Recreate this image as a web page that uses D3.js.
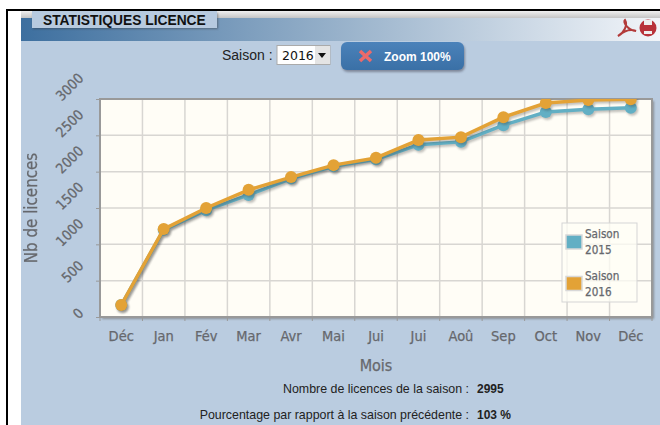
<!DOCTYPE html>
<html>
<head>
<meta charset="utf-8">
<script src="https://cdn.jsdelivr.net/npm/d3@7"></script>
<style>
html, body { margin: 0; padding: 0; background: #fff; overflow: hidden; }
svg { filter: blur(0.35px); }
text { font-family: "DejaVu Sans", sans-serif; }
.ui { font-family: "Liberation Sans", Arial, sans-serif; }
.lab { font-family: "DejaVu Sans Condensed", "DejaVu Sans", sans-serif; fill: #66686d; stroke: #66686d; stroke-width: 0.25px; }
</style>
</head>
<body>
<div id="chart"></div>
<script>
const months = ['Déc', 'Jan', 'Fév', 'Mar', 'Avr', 'Mai', 'Jui', 'Jui', 'Aoû', 'Sep', 'Oct', 'Nov', 'Déc'];
const season2015 = [165, 1200, 1470, 1680, 1905, 2075, 2170, 2370, 2410, 2640, 2820, 2860, 2880];
const season2016 = [165, 1210, 1500, 1750, 1925, 2090, 2190, 2435, 2475, 2750, 2945, 2985, 2995];
const yTicks = [0, 500, 1000, 1500, 2000, 2500, 3000];
const seasonNames = ['2015', '2016'];
const seasonColors = ['#62afc4', '#e3a236'];

const svg = d3.select('#chart').append('svg').attr('width', 660).attr('height', 425);
const defs = svg.append('defs');

const headGrad = defs.append('linearGradient').attr('id', 'head');
headGrad.append('stop').attr('offset', '0%').attr('stop-color', '#3d6f9f');
headGrad.append('stop').attr('offset', '45%').attr('stop-color', '#8fabc6');
headGrad.append('stop').attr('offset', '100%').attr('stop-color', '#f2f5f9');

const topGrad = defs.append('linearGradient').attr('id', 'topbar').attr('x2', 0).attr('y2', 1);
topGrad.append('stop').attr('offset', '0%').attr('stop-color', '#f0f0f0');
topGrad.append('stop').attr('offset', '100%').attr('stop-color', '#c4c4c4');

const btnGrad = defs.append('linearGradient').attr('id', 'btn').attr('x2', 0).attr('y2', 1);
btnGrad.append('stop').attr('offset', '0%').attr('stop-color', '#4b82ba');
btnGrad.append('stop').attr('offset', '100%').attr('stop-color', '#3a70a6');

const soft = defs.append('filter').attr('id', 'soft').attr('x', '-20%').attr('y', '-20%').attr('width', '140%').attr('height', '140%');
soft.append('feGaussianBlur').attr('stdDeviation', 1.2);

defs.append('clipPath').attr('id', 'plotclip').append('rect')
    .attr('x', 100).attr('y', 99).attr('width', 552).attr('height', 218);

// page frame
svg.append('rect').attr('x', 6).attr('y', 9).attr('width', 654).attr('height', 2).attr('fill', '#000');
svg.append('rect').attr('x', 6).attr('y', 9).attr('width', 2).attr('height', 416).attr('fill', '#000');
svg.append('rect').attr('x', 21).attr('y', 11).attr('width', 639).attr('height', 414).attr('fill', '#bacce0');
svg.append('rect').attr('x', 21).attr('y', 11).attr('width', 639).attr('height', 7).attr('fill', 'url(#topbar)');
svg.append('rect').attr('x', 21).attr('y', 18).attr('width', 639).attr('height', 23).attr('fill', 'url(#head)');

// title tab
svg.append('rect').attr('x', 33).attr('y', 13).attr('width', 185).attr('height', 16)
    .attr('fill', '#333').attr('opacity', 0.45).attr('filter', 'url(#soft)');
svg.append('rect').attr('x', 32).attr('y', 11).attr('width', 185).attr('height', 17).attr('fill', '#b7cadf');
svg.append('text').attr('class', 'ui').attr('x', 43).attr('y', 24.5)
    .attr('font-size', 13.8).attr('font-weight', 'bold').attr('fill', '#111').text('STATISTIQUES LICENCE');

// pdf and print icons
svg.append('path').attr('d', 'M618 36 C624 33 628 25 625 20 C623 22 627 30 636 31 C631 29 624 31 618 36 Z')
    .attr('fill', 'none').attr('stroke', '#b23a3a').attr('stroke-width', 2);
svg.append('circle').attr('cx', 648).attr('cy', 28).attr('r', 8.5).attr('fill', '#b8323a');
svg.append('rect').attr('x', 644).attr('y', 20).attr('width', 8).attr('height', 5).attr('fill', '#eee');
svg.append('rect').attr('x', 644).attr('y', 31).attr('width', 8).attr('height', 3).attr('fill', '#eee');

// season selector
svg.append('text').attr('class', 'ui').attr('x', 222).attr('y', 59.5)
    .attr('font-size', 14).attr('fill', '#222').text('Saison :');
svg.append('rect').attr('x', 277).attr('y', 45.5).attr('width', 53).attr('height', 19)
    .attr('fill', '#fff').attr('stroke', '#aaa');
svg.append('rect').attr('x', 315).attr('y', 46).attr('width', 15).attr('height', 18).attr('fill', '#e4e4e4');
svg.append('path').attr('d', 'M318 53 L326 53 L322 58 Z').attr('fill', '#111');
svg.append('text').attr('x', 282).attr('y', 60).attr('font-size', 12.5).attr('fill', '#111').text('2016');

// zoom button
svg.append('rect').attr('x', 342).attr('y', 44).attr('width', 123).attr('height', 28).attr('rx', 6)
    .attr('fill', '#445').attr('opacity', 0.5).attr('filter', 'url(#soft)');
svg.append('rect').attr('x', 341).attr('y', 42).attr('width', 123).attr('height', 28).attr('rx', 6).attr('fill', 'url(#btn)');
svg.append('path').attr('d', 'M360 51 L371 61 M371 51 L360 61').attr('stroke', '#ec6a6a').attr('stroke-width', 3.5);
svg.append('text').attr('class', 'ui').attr('x', 384).attr('y', 61)
    .attr('font-size', 12).attr('font-weight', 'bold').attr('fill', '#fff').text('Zoom 100%');

// scales
const x = d3.scaleBand().domain(d3.range(months.length)).range([100, 652]);
const y = d3.scaleLinear().domain([0, 3000]).range([317, 99]);

// plot background
svg.append('rect').attr('x', 102).attr('y', 101).attr('width', 552).attr('height', 218)
    .attr('fill', '#777').attr('opacity', 0.7).attr('filter', 'url(#soft)');
svg.append('rect').attr('x', 100).attr('y', 99).attr('width', 552).attr('height', 218)
    .attr('fill', '#fffdf6');

// grid
svg.append('g').selectAll('line').data(d3.range(1, months.length)).join('line')
    .attr('x1', d => x(d)).attr('x2', d => x(d)).attr('y1', 99).attr('y2', 317)
    .attr('stroke', '#d8d6d2').attr('stroke-width', 1.5);
svg.append('g').selectAll('line').data(yTicks.slice(1, -1)).join('line')
    .attr('x1', 100).attr('x2', 652).attr('y1', d => y(d)).attr('y2', d => y(d))
    .attr('stroke', '#d8d6d2').attr('stroke-width', 1.5);

// plot border
svg.append('rect').attr('x', 100).attr('y', 99).attr('width', 552).attr('height', 218)
    .attr('fill', 'none').attr('stroke', '#999').attr('stroke-width', 2);

// axes
const xAxis = svg.append('g').attr('transform', 'translate(0,317)')
    .call(d3.axisBottom(x).tickFormat(i => months[i]).tickSize(0).tickPadding(14));
xAxis.select('.domain').remove();
xAxis.selectAll('text').attr('class', 'lab').attr('font-size', 14.5).attr('font-family', null);
svg.append('g').selectAll('line').data(d3.range(months.length + 1)).join('line')
    .attr('x1', i => i < months.length ? x(i) : 652).attr('x2', i => i < months.length ? x(i) : 652)
    .attr('y1', 317).attr('y2', 321).attr('stroke', '#999');

const yAxis = svg.append('g').attr('transform', 'translate(100,0)')
    .call(d3.axisLeft(y).tickValues(yTicks).tickFormat(d3.format('d')).tickSize(4));
yAxis.select('.domain').remove();
yAxis.selectAll('line').attr('stroke', '#999');
// rotated labels: right edges line up, baseline start sits just under the tick
yAxis.selectAll('text')
    .attr('class', 'lab').attr('font-size', 14).attr('text-anchor', 'start').attr('dy', 0)
    .attr('font-family', null)
    .each(function () {
        const sx = -15.6 - 0.707 * this.getComputedTextLength();
        d3.select(this).attr('x', sx).attr('y', 2.3).attr('transform', 'rotate(-45 ' + sx + ' 2.3)');
    });

svg.append('text').attr('class', 'lab').attr('transform', 'translate(37,208) rotate(-90)')
    .attr('text-anchor', 'middle').attr('font-size', 16.8).text('Nb de licences');
svg.append('text').attr('class', 'lab').attr('x', 376).attr('y', 371)
    .attr('text-anchor', 'middle').attr('font-size', 16).text('Mois');

// series
const line = d3.line().x((d, i) => x(i) + x.bandwidth() / 2).y(d => y(d));
const plot = svg.append('g').attr('clip-path', 'url(#plotclip)');
[season2015, season2016].forEach((values, s) => {
    const shadow = plot.append('g').attr('transform', 'translate(1.5,2)').attr('opacity', 0.3).attr('filter', 'url(#soft)');
    shadow.append('path').datum(values).attr('d', line).attr('fill', 'none').attr('stroke', '#333').attr('stroke-width', 3.5);
    shadow.selectAll('circle').data(values).join('circle')
        .attr('cx', (d, i) => x(i) + x.bandwidth() / 2).attr('cy', d => y(d)).attr('r', 6).attr('fill', '#333');
    plot.append('path').datum(values).attr('d', line)
        .attr('fill', 'none').attr('stroke', seasonColors[s]).attr('stroke-width', 3.5);
    plot.append('g').selectAll('circle').data(values).join('circle')
        .attr('cx', (d, i) => x(i) + x.bandwidth() / 2).attr('cy', d => y(d)).attr('r', 6)
        .attr('fill', seasonColors[s]);
});

// legend
const legend = svg.append('g').attr('transform', 'translate(562,223)');
legend.append('rect').attr('width', 75).attr('height', 79).attr('fill', '#fffdf6').attr('fill-opacity', 0.75)
    .attr('stroke', '#d5d5d5');
seasonNames.forEach((name, i) => {
    const g = legend.append('g').attr('transform', 'translate(0,' + (i * 41.5) + ')');
    g.append('rect').attr('x', 4).attr('y', 12).attr('width', 16).attr('height', 14)
        .attr('fill', seasonColors[i]).attr('stroke', '#d8d8d8').attr('stroke-width', 1.5);
    g.append('text').attr('class', 'lab').attr('x', 23).attr('y', 15).attr('font-size', 11.6).text('Saison');
    g.append('text').attr('class', 'lab').attr('x', 23).attr('y', 31).attr('font-size', 11.6).text(name);
});

// footer
const footerLabels = ['Nombre de licences de la saison :', 'Pourcentage par rapport à la saison précédente :'];
const footerValues = ['2995', '103 %'];
footerLabels.forEach((label, i) => {
    const py = 393 + i * 26;
    svg.append('text').attr('class', 'ui').attr('x', 469).attr('y', py).attr('text-anchor', 'end')
        .attr('font-size', 12.4).attr('fill', '#222').text(label);
    svg.append('text').attr('class', 'ui').attr('x', 477).attr('y', py)
        .attr('font-size', 12).attr('font-weight', 'bold').attr('fill', '#222').text(footerValues[i]);
});
</script>
</body>
</html>
